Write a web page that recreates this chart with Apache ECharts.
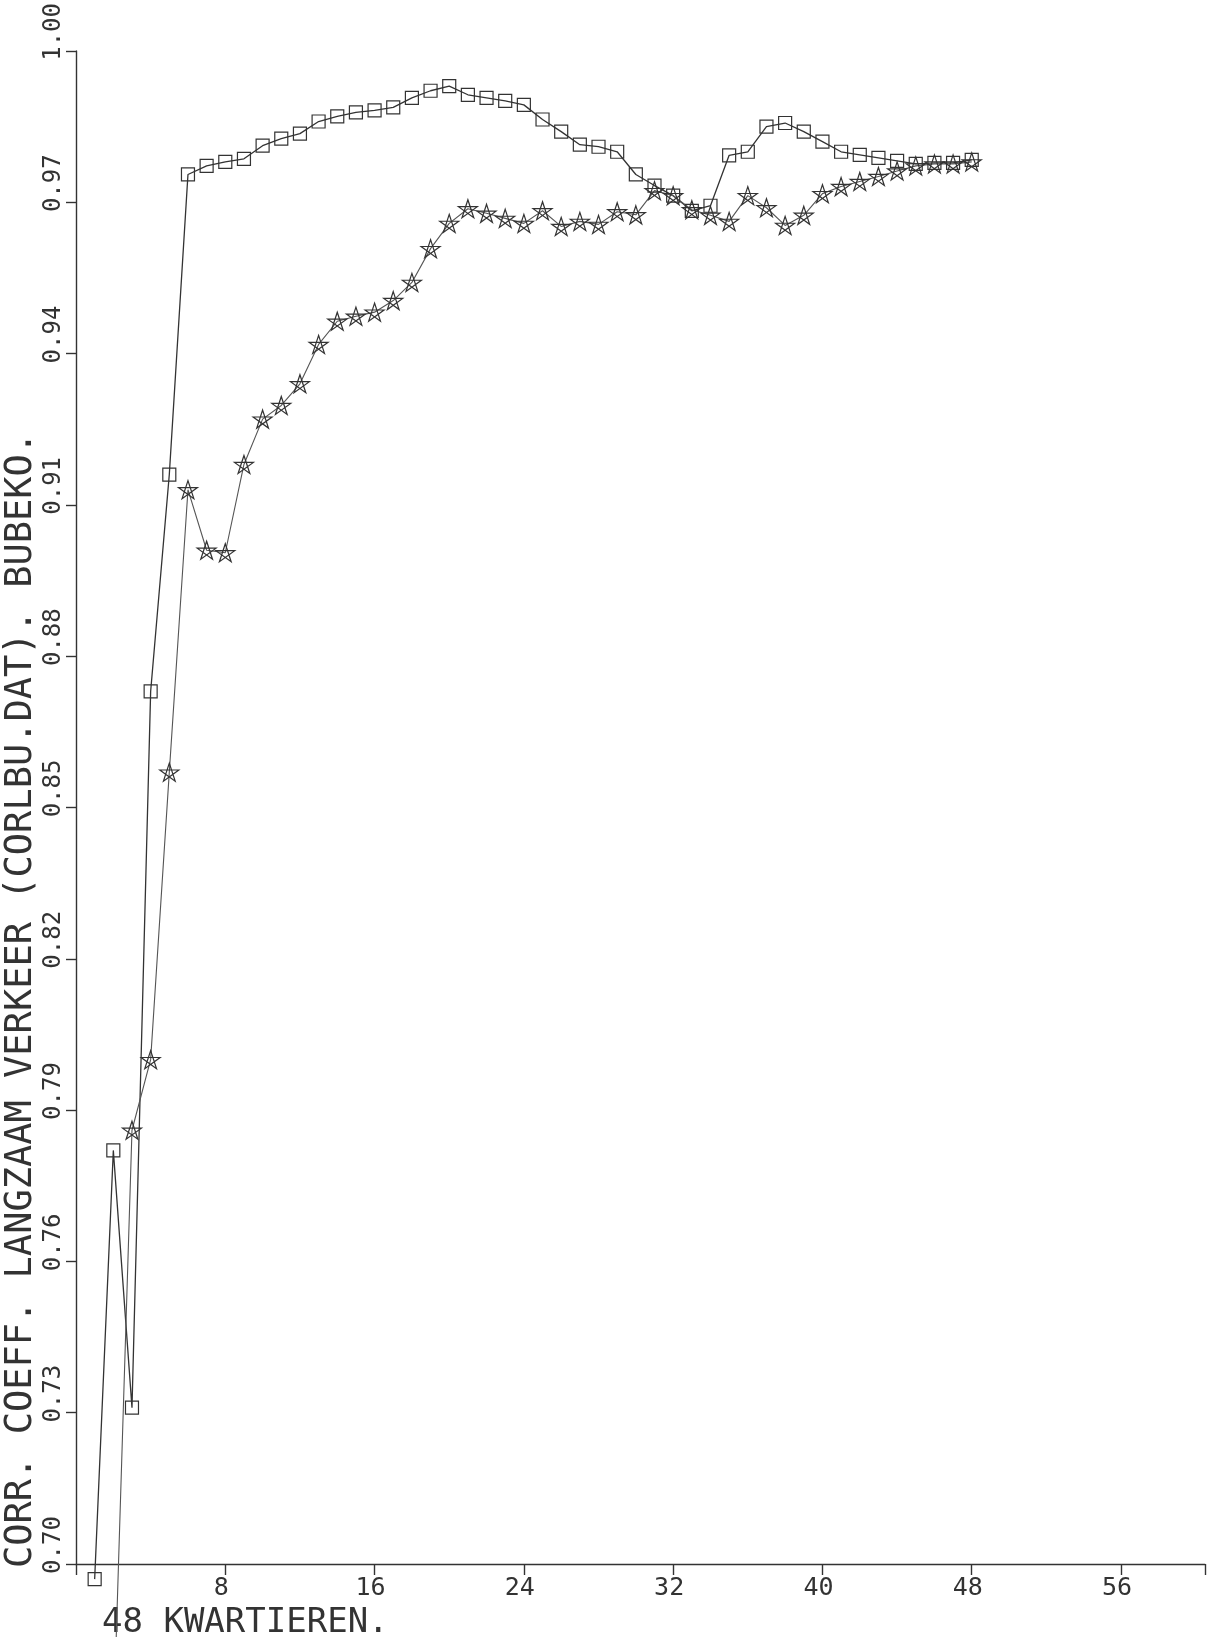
<!DOCTYPE html>
<html><head><meta charset="utf-8">
<script src="https://cdn.jsdelivr.net/npm/echarts@6/dist/echarts.min.js"></script>
<style>html,body{margin:0;padding:0;background:#fff}#c{width:1208px;height:1637px}</style>
</head><body><div id="c"></div>
<script>
const FONT = '"DejaVu Sans Mono", monospace';
const yTitle = 'CORR. COEFF. LANGZAAM VERKEER (CORLBU.DAT). BUBEKO.';
const xTitle = '48 KWARTIEREN.';
const xTickLabels = [8, 16, 24, 32, 40, 48, 56];
const yTickLabels = ['0.70','0.73','0.76','0.79','0.82','0.85','0.88','0.91','0.94','0.97','1.00'];

const squareX = [1,2,3,4,5,6,7,8,9,10,11,12,13,14,15,16,17,18,19,20,21,22,23,24,
                 25,26,27,28,29,30,31,32,33,34,35,36,37,38,39,40,41,42,43,44,45,46,47,48];
const squareVals = [0.697,0.782,0.731,0.873,0.916,0.9755,0.9772,0.978,0.9786,0.9812,0.9826,0.9836,
                    0.986,0.987,0.9878,0.9882,0.9888,0.9907,0.9921,0.9930,0.9913,0.9907,0.9901,0.9893,
                    0.9864,0.9840,0.9814,0.9810,0.9800,0.9755,0.9733,0.9713,0.9683,0.9693,0.9793,0.9800,
                    0.9850,0.9857,0.9840,0.9820,0.9800,0.9794,0.9788,0.9782,0.9776,0.9778,0.9778,0.9784];

const starX = [2,3,4,5,6,7,8,9,10,11,12,13,14,15,16,17,18,19,20,21,22,23,24,
               25,26,27,28,29,30,31,32,33,34,35,36,37,38,39,40,41,42,43,44,45,46,47,48];
const starVals = [0.667,0.786,0.800,0.857,0.913,0.901,0.9005,0.918,0.927,0.9297,0.934,0.9418,
                  0.9464,0.9474,0.9482,0.9505,0.9541,0.9608,0.9658,0.9687,0.9678,0.9668,0.9658,
                  0.9683,0.9652,0.9662,0.9656,0.9681,0.9675,0.9723,0.9713,0.9685,0.9674,0.9662,
                  0.9713,0.9689,0.9654,0.9674,0.9717,0.9731,0.9741,0.9751,0.9762,0.9772,0.9776,0.9776,0.9780];

// y axis is drawn in hundredths above 0.70 so that ticks start at the axis minimum
const Y_BASE = 0.70, Y_SCALE = 100;
const toY = v => (v - Y_BASE) * Y_SCALE;
const squareData = squareX.map((x, i) => [x, toY(squareVals[i])]);
const starData = starX.map((x, i) => [x, toY(starVals[i])]);

const STAR = 'path://M50,0L79.39,90.45L2.45,34.55L97.55,34.55L20.61,90.45Z';
const INK = '#333';

const chart = echarts.init(document.getElementById('c'), null, {renderer: 'canvas'});
chart.setOption({
  animation: false,
  backgroundColor: '#fff',
  grid: {left: 76, right: -10, top: 49, bottom: 73, containLabel: false},
  xAxis: {
    type: 'value', min: 0, max: 60.5, interval: 8,
    axisLine: {show: true, onZero: false, lineStyle: {color: INK, width: 1.4}},
    axisTick: {show: true, inside: false, length: 11, lineStyle: {color: INK, width: 1.4}},
    axisLabel: {
      show: true, margin: 12, fontFamily: FONT, fontSize: 25, color: INK, padding: [0, 8, 0, 0],
      formatter: v => xTickLabels.includes(v) ? String(v) : ''
    },
    splitLine: {show: false}
  },
  yAxis: {
    type: 'value', min: 0, max: 30, interval: 3,
    axisLine: {show: true, onZero: false, lineStyle: {color: INK, width: 1.4}},
    axisTick: {show: true, inside: false, length: 10, lineStyle: {color: INK, width: 1.4}},
    axisLabel: {
      show: true, rotate: 90, align: 'center', verticalAlign: 'middle',
      margin: 22, padding: [0, 0, 0, 38], fontFamily: FONT, fontSize: 24, color: INK,
      formatter: v => yTickLabels[Math.round(v / 3)] || ''
    },
    splitLine: {show: false}
  },
  graphic: [
    {type: 'text', x: 21, y: 1568, rotation: Math.PI / 2,
     style: {text: yTitle, fontFamily: FONT, fontSize: 37, fill: INK, align: 'left', verticalAlign: 'middle'}},
    {type: 'text', x: 102, y: 1623,
     style: {text: xTitle, fontFamily: FONT, fontSize: 34, fill: INK, align: 'left', verticalAlign: 'middle'}}
  ],
  series: [
    {
      type: 'line', data: squareData, clip: false,
      symbol: 'rect', symbolSize: 13, showAllSymbol: true,
      lineStyle: {color: '#333', width: 1.3},
      itemStyle: {color: 'rgba(0,0,0,0)', borderColor: '#333', borderWidth: 1.2},
      emphasis: {disabled: true}
    },
    {
      type: 'line', data: starData, clip: false,
      symbol: STAR, symbolSize: [19, 18], showAllSymbol: true,
      lineStyle: {color: '#555', width: 1.1},
      itemStyle: {color: 'rgba(0,0,0,0)', borderColor: '#333', borderWidth: 1.2},
      emphasis: {disabled: true}
    }
  ]
});
</script>
</body></html>
